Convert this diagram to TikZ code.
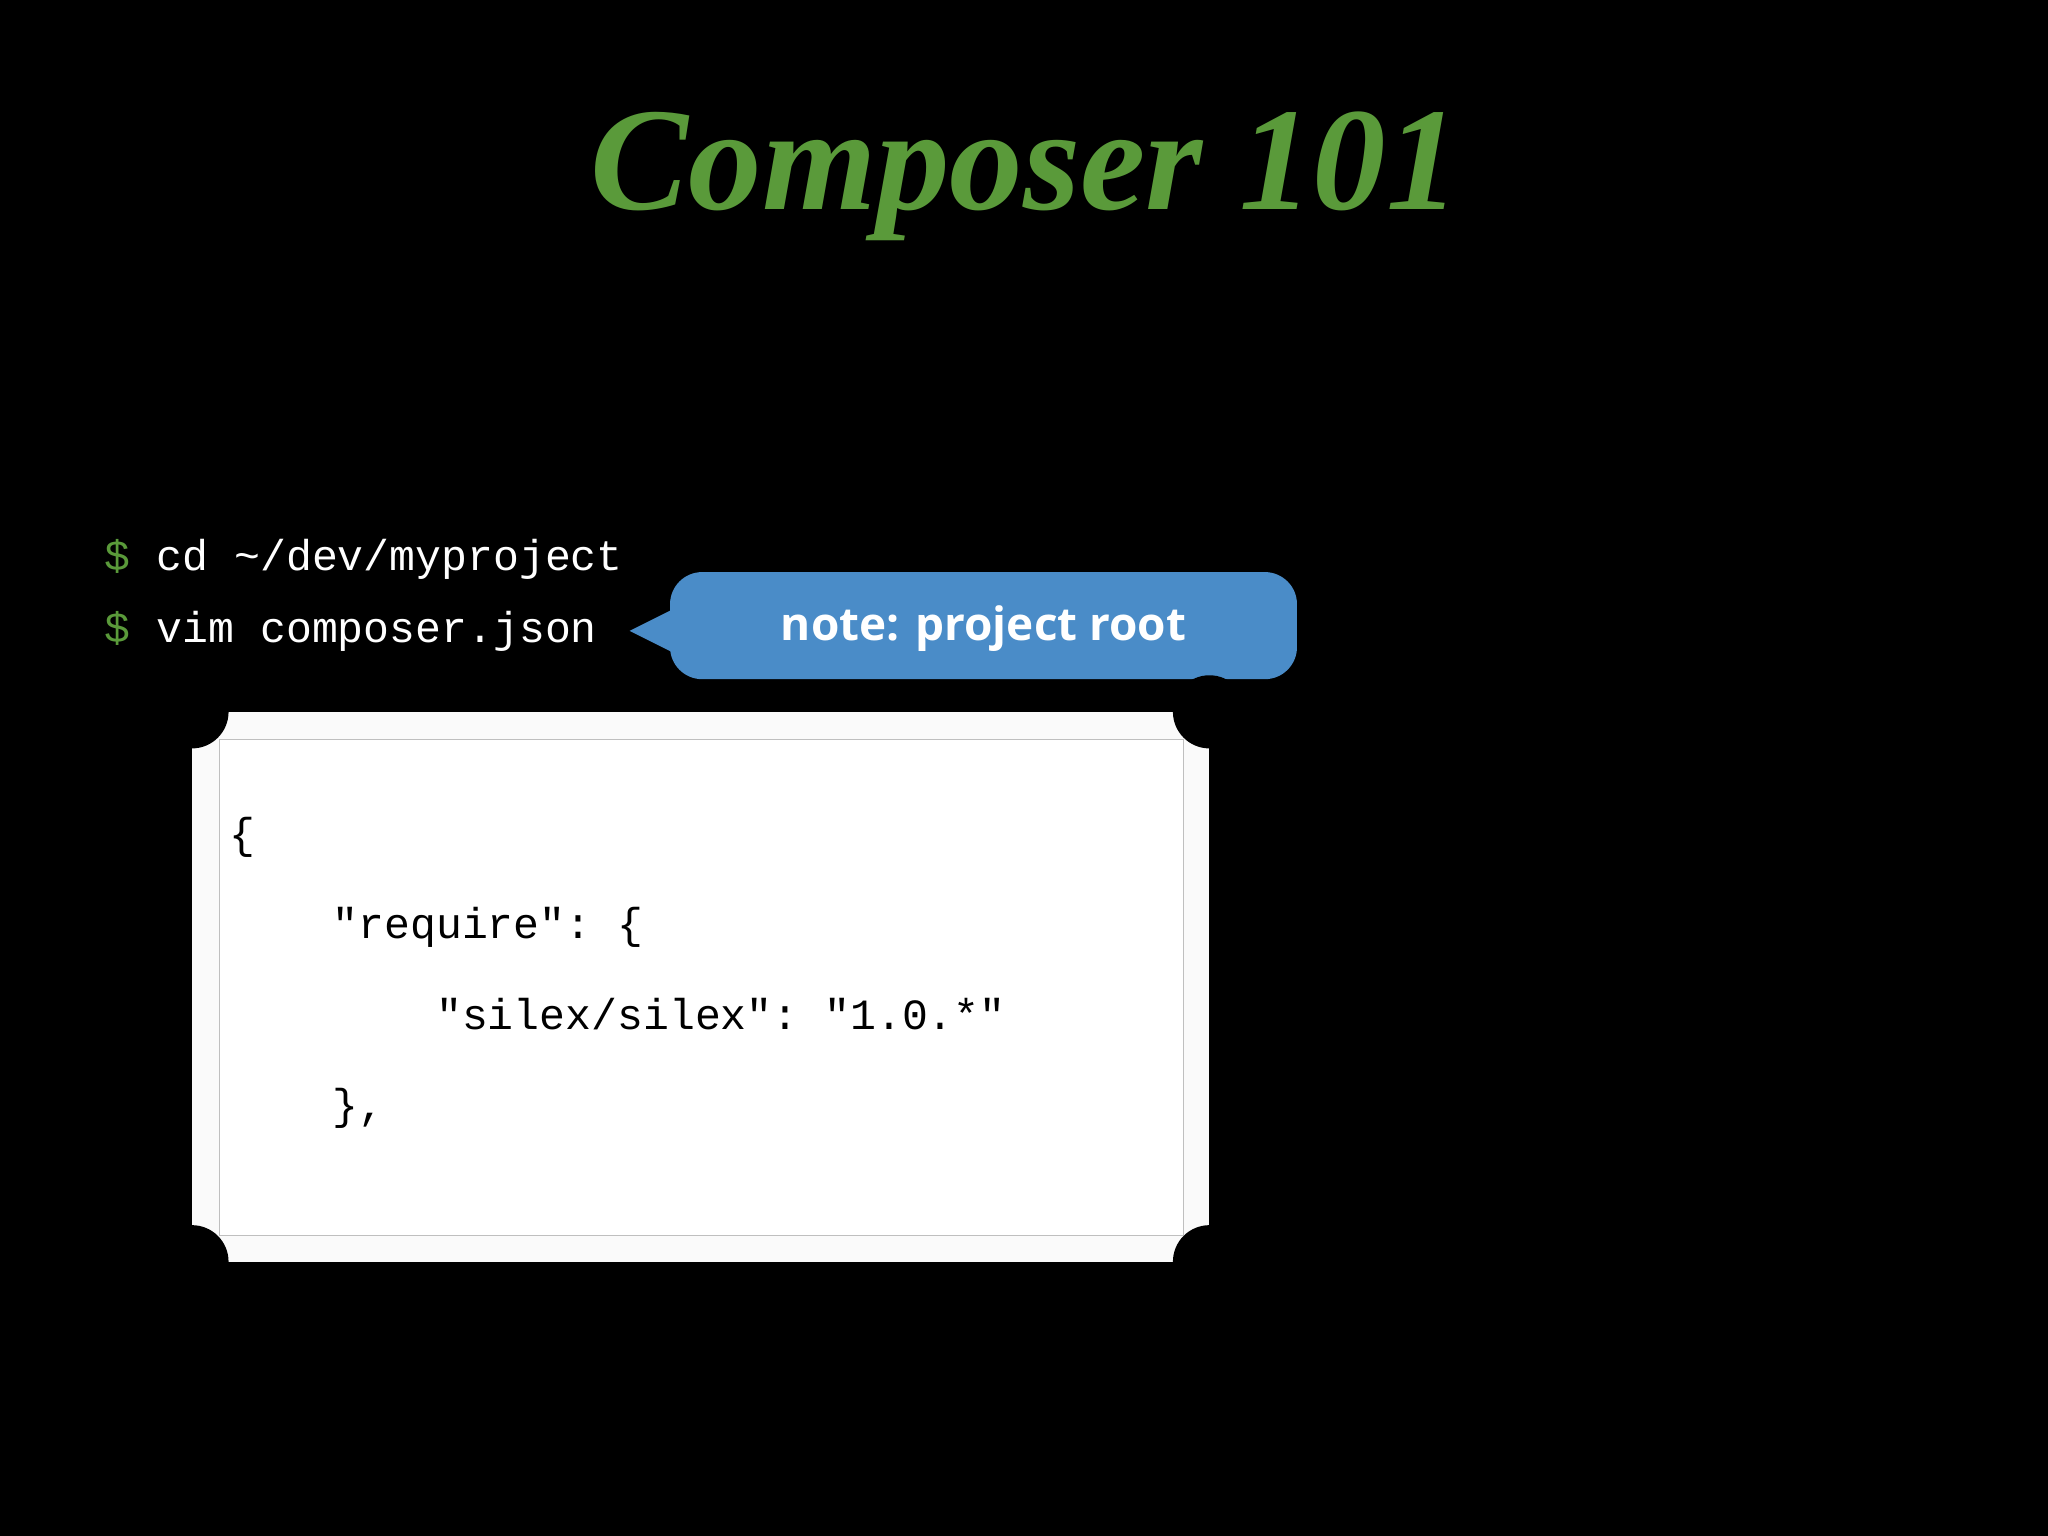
\documentclass[tikz,border=0pt]{standalone}
\usepackage{fontspec}
\setmainfont{Liberation Serif}
\setsansfont{Open Sans}
\setmonofont{Liberation Mono}
\definecolor{grn}{HTML}{5A9A3A}
\definecolor{blu}{HTML}{4A8CC8}
\begin{document}
\begin{tikzpicture}[x=0.02cm,y=-0.02cm,
  code/.style={font=\fontsize{18.8}{39.5}\ttfamily, inner sep=0, anchor=base west, align=left}]
\fill[black] (0,0) rectangle (1568,1176);
\useasboundingbox (0,0) rectangle (1568,1176);
\node[font=\fontsize{64}{64}\selectfont\bfseries\itshape, text=grn] (title) at (785,135) {Composer 101};
\node[code] (l1) at (80,437) {\textcolor{grn}{\$} \textcolor{white}{cd \textasciitilde/dev/myproject}};
\node[code] (l2) at (80,492) {\textcolor{grn}{\$} \textcolor{white}{vim composer.json}};
% callout
\fill[blu, rounded corners=14] (513,438) rectangle (993,520);
\coordinate (tip) at (482,483);
\fill[blu] (tip) -- (516,466) -- (516,500) -- cycle;
\node[font=\fontsize{20}{20}\sffamily\bfseries, text=white] (note) at (753,481) {note: project root};
% code box
\fill[white!96!gray] (147,545) rectangle (926,966);
\fill[white] (168,566) rectangle (906,946);
\draw[gray!50, line width=0.6] (168,566) -- (906,566) (168,946) -- (906,946) (168,566) -- (168,946) (906,566) -- (906,946);
\foreach \x/\y in {147/545,926/545,147/966,926/966} \fill[black] (\x,\y) circle (28);
\node[code, anchor=north west] (json) at (175,625) {\{\\
\ \ \ \ "require": \{\\
\ \ \ \ \ \ \ \ "silex/silex": "1.0.*"\\
\ \ \ \ \},\\
\strut\\
\ \ \ \ "minimum-stability": "dev"\\
\}};
\end{tikzpicture}
\end{document}
